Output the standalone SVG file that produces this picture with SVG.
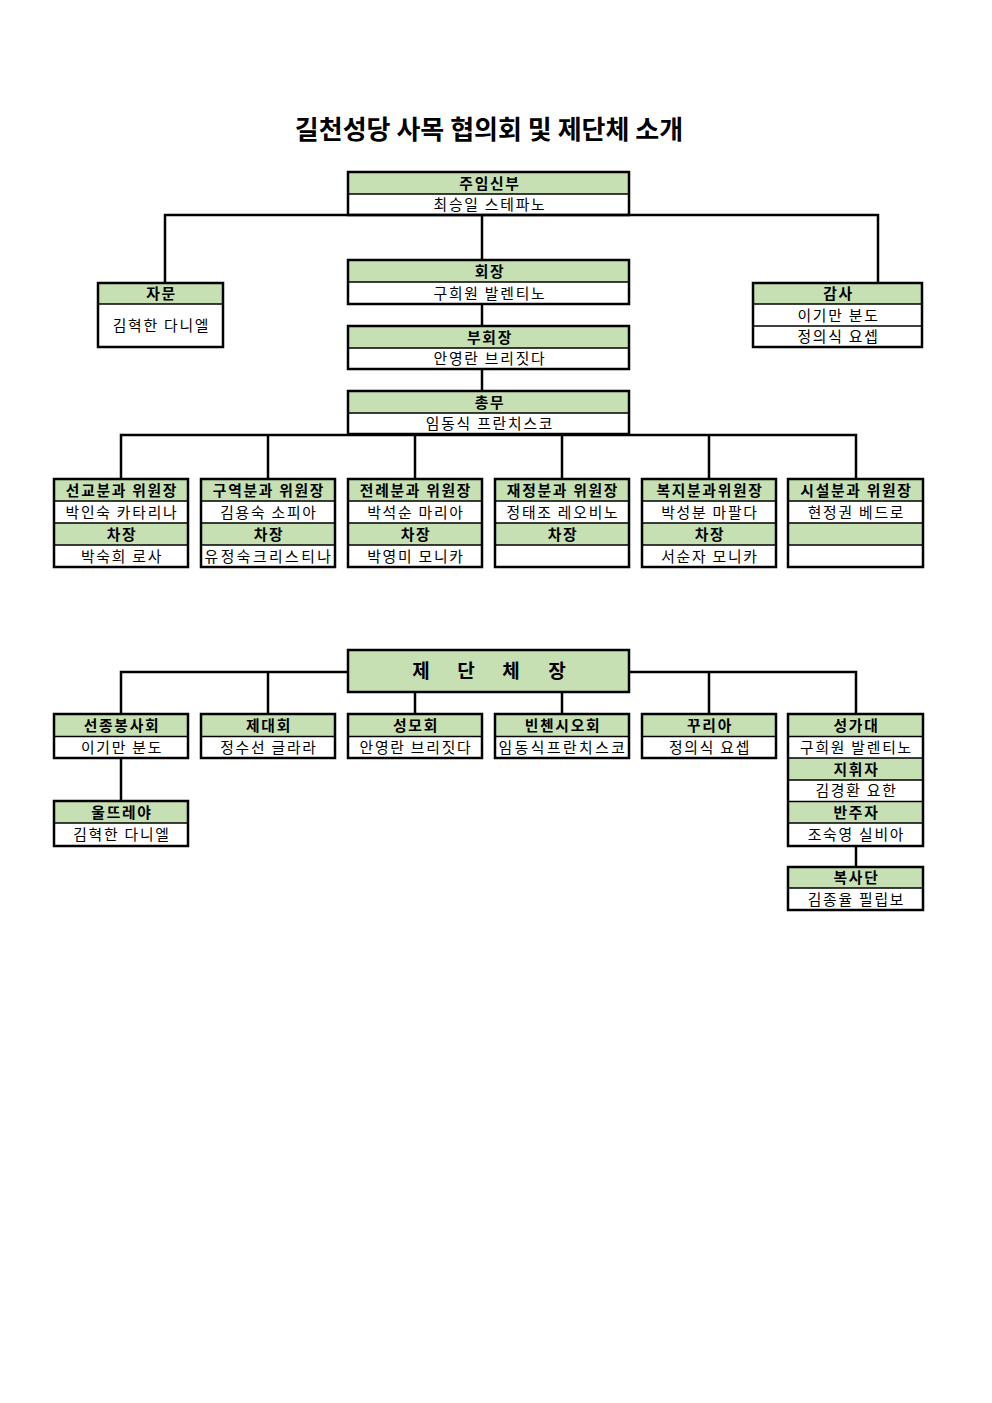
<svg xmlns="http://www.w3.org/2000/svg" width="992" height="1403" viewBox="0 0 992 1403">
<style>
.bg{fill:#fff}
.hd{fill:#c6e0b4}
.bx{fill:none;stroke:#000;stroke-width:2.5}
.dv{stroke:#000;stroke-width:1.5}
.c{fill:none;stroke:#000;stroke-width:2.5}
text{font-family:"Noto Sans CJK KR","Noto Sans",sans-serif;text-anchor:middle;fill:#000}
.h{font-size:14.8px;font-weight:bold;letter-spacing:1.7px}
.n{font-size:14.8px;letter-spacing:1.8px}
.w{letter-spacing:2.5px}
.t{font-size:26px;font-weight:bold}
.big{font-size:19px;font-weight:bold}
</style>
<rect class="bg" x="0" y="0" width="992" height="1403"/>
<text class="t" x="489" y="139">길천성당 사목 협의회 및 제단체 소개</text>

<g id="connectors">
<path class="c" d="M165,283 V215 H878 V283"/>
<path class="c" d="M482,215 V260"/>
<path class="c" d="M482,304 V326"/>
<path class="c" d="M482,369 V391"/>
<path class="c" d="M121,479 V435 H856 V479"/>
<path class="c" d="M268,435 V479 M415,435 V479 M562,435 V479 M709,435 V479"/>
<path class="c" d="M121,714 V672 H348"/>
<path class="c" d="M629,672 H856 V714"/>
<path class="c" d="M268,672 V714 M709,672 V714 M415,692 V714 M562,692 V714"/>
<path class="c" d="M121,758 V801"/>
<path class="c" d="M856,846 V867"/>
</g>

<g id="node-jumin">
<rect class="hd" x="348" y="172" width="281" height="22"/>
<line class="dv" x1="348" y1="194" x2="629" y2="194"/>
<rect class="bx" x="348" y="172" width="281" height="43"/>
<text class="h" x="490" y="188.5">주임신부</text>
<text class="n" x="490" y="210">최승일 스테파노</text>
</g>

<g id="node-hoejang">
<rect class="hd" x="348" y="260" width="281" height="22"/>
<line class="dv" x1="348" y1="282" x2="629" y2="282"/>
<rect class="bx" x="348" y="260" width="281" height="44"/>
<text class="h" x="490" y="276.5">회장</text>
<text class="n" x="490" y="298.5">구희원 발렌티노</text>
</g>

<g id="node-buhoejang">
<rect class="hd" x="348" y="326" width="281" height="22"/>
<line class="dv" x1="348" y1="348" x2="629" y2="348"/>
<rect class="bx" x="348" y="326" width="281" height="43"/>
<text class="h" x="490" y="342.5">부회장</text>
<text class="n" x="490" y="364">안영란 브리짓다</text>
</g>

<g id="node-chongmu">
<rect class="hd" x="348" y="391" width="281" height="22"/>
<line class="dv" x1="348" y1="413" x2="629" y2="413"/>
<rect class="bx" x="348" y="391" width="281" height="43"/>
<text class="h" x="490" y="407.5">총무</text>
<text class="n" x="490" y="429">임동식 프란치스코</text>
</g>

<g id="node-jamun">
<rect class="hd" x="98" y="283" width="125" height="21"/>
<line class="dv" x1="98" y1="304" x2="223" y2="304"/>
<rect class="bx" x="98" y="283" width="125" height="64"/>
<text class="h" x="161.5" y="299">자문</text>
<text class="n" x="161.5" y="331">김혁한 다니엘</text>
</g>

<g id="node-gamsa">
<rect class="hd" x="753" y="283" width="169" height="21"/>
<line class="dv" x1="753" y1="304" x2="922" y2="304"/>
<line class="dv" x1="753" y1="326" x2="922" y2="326"/>
<rect class="bx" x="753" y="283" width="169" height="64"/>
<text class="h" x="838.5" y="299">감사</text>
<text class="n" x="838.5" y="320.5">이기만 분도</text>
<text class="n" x="838.5" y="342">정의식 요셉</text>
</g>

<g id="node-seongyo">
<rect class="hd" x="54" y="479" width="134" height="22"/>
<rect class="hd" x="54" y="523" width="134" height="22"/>
<path class="dv" d="M54,501 H188 M54,523 H188 M54,545 H188"/>
<rect class="bx" x="54" y="479" width="134" height="88"/>
<text class="h" x="122" y="495.5">선교분과 위원장</text>
<text class="n" x="122" y="517.5">박인숙 카타리나</text>
<text class="h" x="122" y="539.5">차장</text>
<text class="n" x="122" y="561.5">박숙희 로사</text>
</g>

<g id="node-guyeok">
<rect class="hd" x="201" y="479" width="134" height="22"/>
<rect class="hd" x="201" y="523" width="134" height="22"/>
<path class="dv" d="M201,501 H335 M201,523 H335 M201,545 H335"/>
<rect class="bx" x="201" y="479" width="134" height="88"/>
<text class="h" x="269" y="495.5">구역분과 위원장</text>
<text class="n" x="269" y="517.5">김용숙 소피아</text>
<text class="h" x="269" y="539.5">차장</text>
<text class="n w" x="269" y="561.5">유정숙크리스티나</text>
</g>

<g id="node-jeonrye">
<rect class="hd" x="348" y="479" width="134" height="22"/>
<rect class="hd" x="348" y="523" width="134" height="22"/>
<path class="dv" d="M348,501 H482 M348,523 H482 M348,545 H482"/>
<rect class="bx" x="348" y="479" width="134" height="88"/>
<text class="h" x="416" y="495.5">전례분과 위원장</text>
<text class="n" x="416" y="517.5">박석순 마리아</text>
<text class="h" x="416" y="539.5">차장</text>
<text class="n" x="416" y="561.5">박영미 모니카</text>
</g>

<g id="node-jaejeong">
<rect class="hd" x="495" y="479" width="134" height="22"/>
<rect class="hd" x="495" y="523" width="134" height="22"/>
<path class="dv" d="M495,501 H629 M495,523 H629 M495,545 H629"/>
<rect class="bx" x="495" y="479" width="134" height="88"/>
<text class="h" x="563" y="495.5">재정분과 위원장</text>
<text class="n" x="563" y="517.5">정태조 레오비노</text>
<text class="h" x="563" y="539.5">차장</text>
</g>

<g id="node-bokji">
<rect class="hd" x="642" y="479" width="134" height="22"/>
<rect class="hd" x="642" y="523" width="134" height="22"/>
<path class="dv" d="M642,501 H776 M642,523 H776 M642,545 H776"/>
<rect class="bx" x="642" y="479" width="134" height="88"/>
<text class="h" x="710" y="495.5">복지분과위원장</text>
<text class="n" x="710" y="517.5">박성분 마팔다</text>
<text class="h" x="710" y="539.5">차장</text>
<text class="n" x="710" y="561.5">서순자 모니카</text>
</g>

<g id="node-siseol">
<rect class="hd" x="788" y="479" width="135" height="22"/>
<rect class="hd" x="788" y="523" width="135" height="22"/>
<path class="dv" d="M788,501 H923 M788,523 H923 M788,545 H923"/>
<rect class="bx" x="788" y="479" width="135" height="88"/>
<text class="h" x="856.5" y="495.5">시설분과 위원장</text>
<text class="n" x="856.5" y="517.5">현정권 베드로</text>
</g>

<g id="node-jedancheja">
<rect class="hd" x="348" y="650" width="281" height="42"/>
<rect class="bx" x="348" y="650" width="281" height="42"/>
<text class="big" x="421 466 511 557" y="678">제단체장</text>
</g>

<g id="node-seonjong">
<rect class="hd" x="54" y="714" width="134" height="22.5"/>
<line class="dv" x1="54" y1="736.5" x2="188" y2="736.5"/>
<rect class="bx" x="54" y="714" width="134" height="44"/>
<text class="h" x="122" y="730.5">선종봉사회</text>
<text class="n" x="122" y="752.5">이기만 분도</text>
</g>

<g id="node-jedae">
<rect class="hd" x="201" y="714" width="134" height="22.5"/>
<line class="dv" x1="201" y1="736.5" x2="335" y2="736.5"/>
<rect class="bx" x="201" y="714" width="134" height="44"/>
<text class="h" x="269" y="730.5">제대회</text>
<text class="n" x="269" y="752.5">정수선 글라라</text>
</g>

<g id="node-seongmo">
<rect class="hd" x="348" y="714" width="134" height="22.5"/>
<line class="dv" x1="348" y1="736.5" x2="482" y2="736.5"/>
<rect class="bx" x="348" y="714" width="134" height="44"/>
<text class="h" x="416" y="730.5">성모회</text>
<text class="n" x="416" y="752.5">안영란 브리짓다</text>
</g>

<g id="node-vincent">
<rect class="hd" x="495" y="714" width="134" height="22.5"/>
<line class="dv" x1="495" y1="736.5" x2="629" y2="736.5"/>
<rect class="bx" x="495" y="714" width="134" height="44"/>
<text class="h" x="563" y="730.5">빈첸시오회</text>
<text class="n w" x="563" y="752.5">임동식프란치스코</text>
</g>

<g id="node-curia">
<rect class="hd" x="642" y="714" width="134" height="22.5"/>
<line class="dv" x1="642" y1="736.5" x2="776" y2="736.5"/>
<rect class="bx" x="642" y="714" width="134" height="44"/>
<text class="h" x="710" y="730.5">꾸리아</text>
<text class="n" x="710" y="752.5">정의식 요셉</text>
</g>

<g id="node-seonggadae">
<rect class="hd" x="788" y="714" width="135" height="22.5"/>
<rect class="hd" x="788" y="758" width="135" height="22"/>
<rect class="hd" x="788" y="801.5" width="135" height="21.5"/>
<path class="dv" d="M788,736.5 H923 M788,758 H923 M788,780 H923 M788,801.5 H923 M788,823 H923"/>
<rect class="bx" x="788" y="714" width="135" height="132"/>
<text class="h" x="856.5" y="730.5">성가대</text>
<text class="n" x="856.5" y="752.5">구희원 발렌티노</text>
<text class="h" x="856.5" y="774.5">지휘자</text>
<text class="n" x="856.5" y="796">김경환 요한</text>
<text class="h" x="856.5" y="817.5">반주자</text>
<text class="n" x="856.5" y="839.5">조숙영 실비아</text>
</g>

<g id="node-ultreya">
<rect class="hd" x="54" y="801" width="134" height="22"/>
<line class="dv" x1="54" y1="823" x2="188" y2="823"/>
<rect class="bx" x="54" y="801" width="134" height="45"/>
<text class="h" x="122" y="817.5">울뜨레야</text>
<text class="n" x="122" y="840">김혁한 다니엘</text>
</g>

<g id="node-boksadan">
<rect class="hd" x="788" y="867" width="135" height="21"/>
<line class="dv" x1="788" y1="888" x2="923" y2="888"/>
<rect class="bx" x="788" y="867" width="135" height="43"/>
<text class="h" x="856.5" y="883">복사단</text>
<text class="n" x="856.5" y="904.5">김종율 필립보</text>
</g>
</svg>
